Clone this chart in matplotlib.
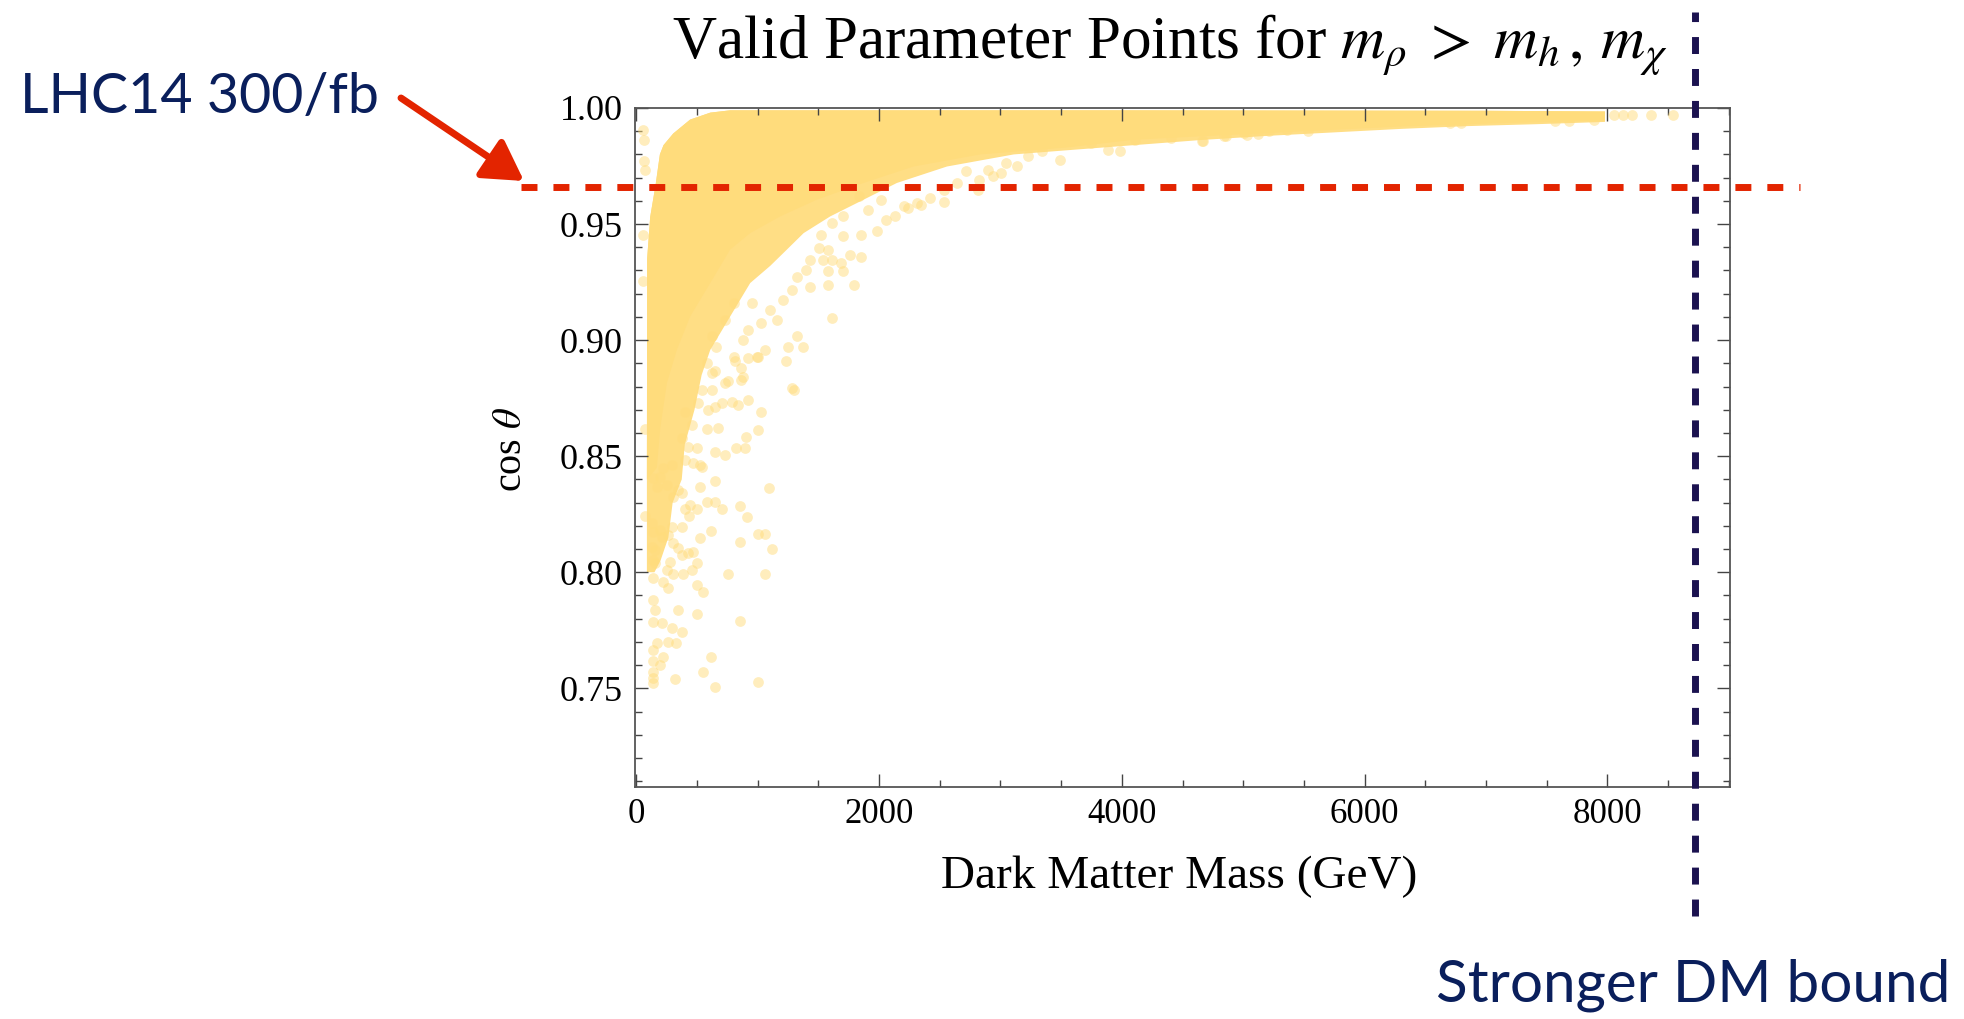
import numpy as np
import matplotlib
matplotlib.use("Agg")
import matplotlib.pyplot as plt
from matplotlib.ticker import MultipleLocator, FormatStrFormatter

# ---------------- data ----------------
# Fully overlapping (solid) part of the scatter: upper and lower outline
solid_top_x = [88, 90, 115, 160, 195, 225, 305, 444, 610, 774, 1000, 4000,
               7000, 7980]
solid_top_y = [0.840, 0.935, 0.953, 0.967, 0.980, 0.984, 0.989, 0.995, 0.998,
               0.999, 0.999, 0.999, 0.9988, 0.9985]
solid_bot_x = [88, 170, 198, 253, 335, 445, 610, 774, 939, 1186, 1488, 1873,
               2285, 2834, 3547, 4096, 4646, 5195, 5744, 6293, 6842, 7117, 7980]
solid_bot_y = [0.840, 0.845, 0.862, 0.8815, 0.8958, 0.9102, 0.9246, 0.939,
               0.9461, 0.9533, 0.9605, 0.9677, 0.9748, 0.980, 0.983, 0.9863,
               0.9878, 0.9892, 0.9906, 0.992, 0.993, 0.9935, 0.9945]
# Partly overlapping cloud of points around the solid part: lower outline
cloud_bot_x = [88, 150, 200, 265, 300, 375, 400, 480, 539, 610, 774, 939,
               1104, 1241, 1379, 1598, 1873, 2147, 2560, 3110, 3600, 4100,
               4650, 5200, 5750, 6300, 6850, 7400, 7980]
cloud_bot_y = [0.800, 0.800, 0.805, 0.815, 0.830, 0.840, 0.855, 0.870, 0.885,
               0.8958, 0.9102, 0.9246, 0.932, 0.939, 0.9461, 0.9533, 0.9605,
               0.9677, 0.9748, 0.980, 0.982, 0.984, 0.9862, 0.988, 0.9895,
               0.991, 0.9922, 0.993, 0.994]

# Individually visible parameter points (dark matter mass in GeV, cos theta)
pts_mass = [
    2532, 2422, 2349, 2239, 2129, 2055, 1982, 1853, 1707, 1523, 1615, 1707,
    1908, 1835, 2019, 1762, 1615, 1688, 1853, 1431, 1541, 1505, 1578, 1395,
    1578, 1707, 1798, 1578, 1431, 1285, 1211, 1321, 1615, 1321, 1376, 1248,
    1285, 1064, 991, 881, 1028, 1156, 1101, 954, 807, 918, 734, 624, 661, 624,
    734, 587, 807, 881, 55, 66, 66, 73, 55, 55, 2819, 3009, 3138, 3046, 3230,
    3487, 3340, 3743, 3890, 3982, 4110, 4404, 4661, 4844, 5028, 5211, 5358,
    2826, 2936, 2642, 2532, 2312, 2202, 2716, 2899,
    1236, 1299, 1031, 1003, 908, 894, 826, 735, 648, 675, 580, 539, 525, 648,
    1091, 853, 913, 703, 585, 648, 498, 435, 402, 443, 375, 293, 74, 74, 615,
    525, 1003, 1064, 853, 1121, 470, 375, 498, 457, 279, 252, 306, 388, 757,
    1058, 142, 224, 265, 498, 552, 142, 156, 347, 498, 853, 142, 211, 293, 375,
    170, 265, 325, 142, 224, 142, 615, 197, 142, 142, 142, 320, 552, 648, 1003,
    128, 156, 142, 156, 265, 306, 347, 429, 128, 142, 197, 211, 347, 375, 306,
    252, 170, 197, 142, 224, 293, 402, 470, 525, 429, 498, 375, 457, 402, 511,
    593, 648, 703, 785, 839, 921, 867, 757, 648, 621, 539, 1003, 921, 812, 867,
    8053, 8127, 8200, 8362, 8537, 4672, 4860, 5006, 5123, 5535, 6706, 6794,
    7570, 7687, 7892,
]
pts_cos = [
    0.9593, 0.9612, 0.9583, 0.9569, 0.9533, 0.9518, 0.9468, 0.9454, 0.9447,
    0.9454, 0.9504, 0.9533, 0.9562, 0.9619, 0.9605, 0.9368, 0.9346, 0.9332,
    0.9360, 0.9346, 0.9346, 0.9396, 0.9389, 0.9303, 0.9296, 0.9296, 0.9238,
    0.9238, 0.9231, 0.9217, 0.9174, 0.9274, 0.9095, 0.9016, 0.8972, 0.8972,
    0.8793, 0.8958, 0.8929, 0.9001, 0.9073, 0.9087, 0.9130, 0.9159, 0.9159,
    0.9044, 0.9087, 0.9016, 0.8972, 0.8857, 0.8814, 0.8900, 0.8929, 0.8843,
    0.9906, 0.9863, 0.9770, 0.9734, 0.9454, 0.9253, 0.9648, 0.9720, 0.9748,
    0.9763, 0.9792, 0.9777, 0.9813, 0.9849, 0.9820, 0.9813, 0.9863, 0.9871,
    0.9856, 0.9878, 0.9885, 0.9899, 0.9906, 0.9691, 0.9705, 0.9677, 0.9648,
    0.9590, 0.9576, 0.9727, 0.9734,
    0.8912, 0.8786, 0.8692, 0.8613, 0.8582, 0.8537, 0.8537, 0.8504, 0.8520,
    0.8620, 0.8618, 0.8455, 0.8366, 0.8395, 0.8365, 0.8287, 0.8240, 0.8271,
    0.8302, 0.8302, 0.8271, 0.8244, 0.8271, 0.8290, 0.8197, 0.8197, 0.8243,
    0.8616, 0.8178, 0.8146, 0.8164, 0.8164, 0.8132, 0.8100, 0.8086, 0.8074,
    0.8038, 0.8010, 0.8043, 0.8010, 0.7991, 0.7991, 0.7991, 0.7991, 0.7977,
    0.7957, 0.7931, 0.7945, 0.7914, 0.7881, 0.7837, 0.7837, 0.7819, 0.7790,
    0.7787, 0.7780, 0.7758, 0.7741, 0.7694, 0.7701, 0.7694, 0.7665, 0.7636,
    0.7619, 0.7633, 0.7600, 0.7571, 0.7543, 0.7524, 0.7540, 0.7572, 0.7507,
    0.7526, 0.8110, 0.8096, 0.8053, 0.8039, 0.8161, 0.8125, 0.8103, 0.8082,
    0.8211, 0.8175, 0.8182, 0.8154, 0.8355, 0.8340, 0.8326, 0.8376, 0.8369,
    0.8412, 0.8405, 0.8448, 0.8462, 0.8484, 0.8470, 0.8462, 0.8541, 0.8534,
    0.8577, 0.8635, 0.8692, 0.8728, 0.8700, 0.8714, 0.8728, 0.8735, 0.8721,
    0.8743, 0.8829, 0.8822, 0.8865, 0.8786, 0.8786, 0.8929, 0.8922, 0.8908,
    0.8879, 0.9968, 0.9968, 0.9968, 0.9968, 0.9968, 0.9856, 0.9878, 0.9893,
    0.9889, 0.9903, 0.9935, 0.9935, 0.9943, 0.9943, 0.9947,
]

lhc14_cos = 0.966          # LHC14 300/fb projected bound on cos theta
dm_bound_mass = 8720       # stronger dark-matter bound (GeV)

x_ticks = [0, 2000, 4000, 6000, 8000]
y_ticks = [0.75, 0.80, 0.85, 0.90, 0.95, 1.00]

# ---------------- style ----------------
plt.rcParams["font.family"] = ["Liberation Serif", "DejaVu Serif"]
plt.rcParams["mathtext.fontset"] = "stix"
plt.rcParams["lines.scale_dashes"] = False

W, H = 1965, 1019
fig = plt.figure(figsize=(W / 100, H / 100), dpi=100)
ax = fig.add_axes([635 / W, 1 - 787 / H, (1730 - 635) / W, (787 - 108) / H])

yellow = "#FFDC7C"
cloud = "#FFDE85"
red = "#E32400"
navy = "#1B1250"
textblue = "#0A1F5C"

# partly overlapping cloud, then the solid core, then single points
ax.fill(np.concatenate([solid_top_x, cloud_bot_x[::-1]]),
        np.concatenate([solid_top_y, cloud_bot_y[::-1]]),
        color=cloud, lw=0, zorder=1)
ax.fill(np.concatenate([solid_top_x, solid_bot_x[::-1]]),
        np.concatenate([solid_top_y, solid_bot_y[::-1]]),
        color=yellow, lw=0, zorder=1.5)
ax.scatter(pts_mass, pts_cos, s=60, color=yellow, alpha=0.5, lw=0, zorder=2)

ax.set_xlim(-10, 9010)
ax.set_ylim(0.7075, 1.0)

ax.set_xticks(x_ticks)
ax.set_yticks(y_ticks)
ax.xaxis.set_minor_locator(MultipleLocator(500))
ax.yaxis.set_minor_locator(MultipleLocator(0.01))
ax.yaxis.set_major_formatter(FormatStrFormatter("%.2f"))
ax.tick_params(which="both", direction="in", top=True, right=True,
               color="#444444", width=1.0)
ax.tick_params(axis="y", labelsize=26, pad=9)
ax.tick_params(axis="x", labelsize=25, pad=8)
ax.tick_params(which="major", length=9.5)
ax.tick_params(which="minor", length=5)
for sp in ax.spines.values():
    sp.set_color("#555555")
    sp.set_linewidth(1.3)

# reference lines extending outside the frame
ax.plot([-950, 9590], [lhc14_cos, lhc14_cos], color=red, lw=5,
        dashes=(11.5, 11.5), dash_capstyle="butt",
        clip_on=False, zorder=5)
ax.plot([dm_bound_mass, dm_bound_mass], [0.652, 1.0415], color=navy, lw=5,
        dashes=(12.2, 10.8), dash_capstyle="butt", clip_on=False, zorder=6)

# labels
fig.text(1170 / W, 1 - 58 / H,
         r"Valid Parameter Points for $m_\rho\;>\;m_h\,,\,m_\chi$",
         ha="center", va="baseline", fontsize=44)
fig.text(1179 / W, 1 - 877 / H, "Dark Matter Mass (GeV)", ha="center",
         va="center", fontsize=34)
fig.text(512 / W, 1 - 449 / H, r"cos $\theta$", ha="center", va="center",
         rotation=90, fontsize=29)

# annotations
fig.text(20 / W, 1 - 113 / H, "LHC14 300/fb", ha="left", va="baseline",
         fontsize=40, color=textblue, family=["Lato", "DejaVu Sans"])
fig.text(1436 / W, 1 - 1002 / H, "Stronger DM bound", ha="left", va="baseline",
         fontsize=42, color=textblue, family=["Lato", "DejaVu Sans"])
fig.patches.append(matplotlib.patches.FancyArrowPatch(
    (401 / W, 1 - 98 / H), (524 / W, 1 - 181 / H), transform=fig.transFigure,
    arrowstyle="-|>,head_length=1.2,head_width=0.7", mutation_scale=20,
    lw=5, color=red, shrinkA=0, shrinkB=0))

fig.savefig("out.png", dpi=100)
